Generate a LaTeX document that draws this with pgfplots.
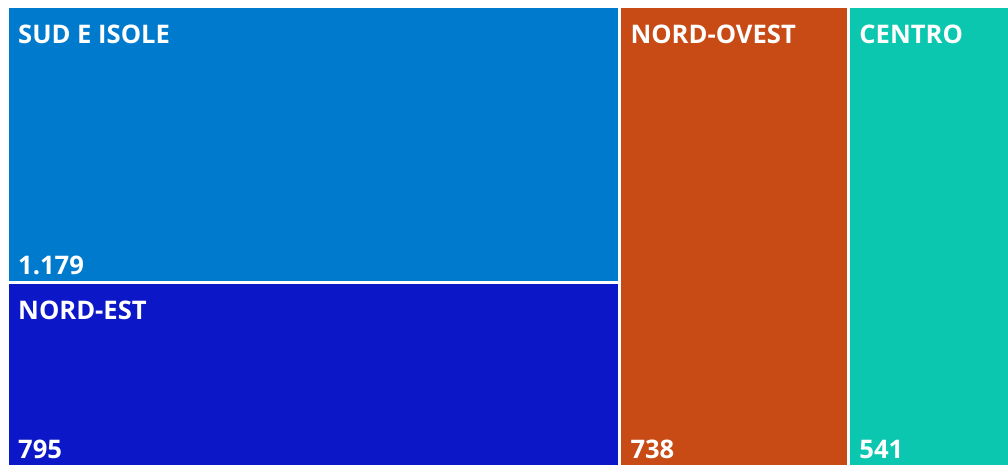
\documentclass[border=0pt]{standalone}
\usepackage{fontspec}
\setmainfont{Open Sans}
\usepackage{pgfplots}
\pgfplotsset{compat=1.18}
\definecolor{csud}{HTML}{007ACC}
\definecolor{cnest}{HTML}{0C17C8}
\definecolor{cnovest}{HTML}{C84A14}
\definecolor{ccentro}{HTML}{0CC7AF}
\tikzset{tl/.style={anchor=base west, text=white, font=\fontsize{25.6}{30}\selectfont\bfseries, inner sep=0pt}}
\begin{document}
\begin{tikzpicture}[x=1pt,y=1pt]
\useasboundingbox (0,0) rectangle (1008,465);
\clip (0,0) rectangle (1008,465);
\begin{axis}[
  at={(7.5pt,-3.5pt)}, anchor=south west,
  scale only axis, width=1009pt, height=462pt,
  hide axis, clip=false,
  xmin=0, xmax=3253, ymin=0, ymax=1974,
  every axis plot/.append style={draw=white, line width=3pt},
]
% SUD E ISOLE: 1179
\addplot[fill=csud] coordinates {(0,795) (1974,795) (1974,1974) (0,1974) (0,795)};
% NORD-EST: 795
\addplot[fill=cnest] coordinates {(0,0) (1974,0) (1974,795) (0,795) (0,0)};
% NORD-OVEST: 738
\addplot[fill=cnovest] coordinates {(1974,0) (2712,0) (2712,1974) (1974,1974) (1974,0)};
% CENTRO: 541
\addplot[fill=ccentro] coordinates {(2712,0) (3253,0) (3253,1974) (2712,1974) (2712,0)};

\node[tl] at ([xshift=10.5pt,yshift=-37.5pt]axis cs:0,1974) {SUD E ISOLE};
\node[tl] at ([xshift=10.5pt,yshift=7.5pt]axis cs:0,795) {1.179};
\node[tl] at ([xshift=10.5pt,yshift=-37.5pt]axis cs:0,795) {NORD-EST};
\node[tl] at ([xshift=10.5pt,yshift=9.5pt]axis cs:0,0) {795};
\node[tl] at ([xshift=10.5pt,yshift=-37.5pt]axis cs:1974,1974) {NORD-OVEST};
\node[tl] at ([xshift=10.5pt,yshift=9.5pt]axis cs:1974,0) {738};
\node[tl] at ([xshift=10.5pt,yshift=-37.5pt]axis cs:2712,1974) {CENTRO};
\node[tl] at ([xshift=10.5pt,yshift=9.5pt]axis cs:2712,0) {541};
\end{axis}
\end{tikzpicture}
\end{document}
